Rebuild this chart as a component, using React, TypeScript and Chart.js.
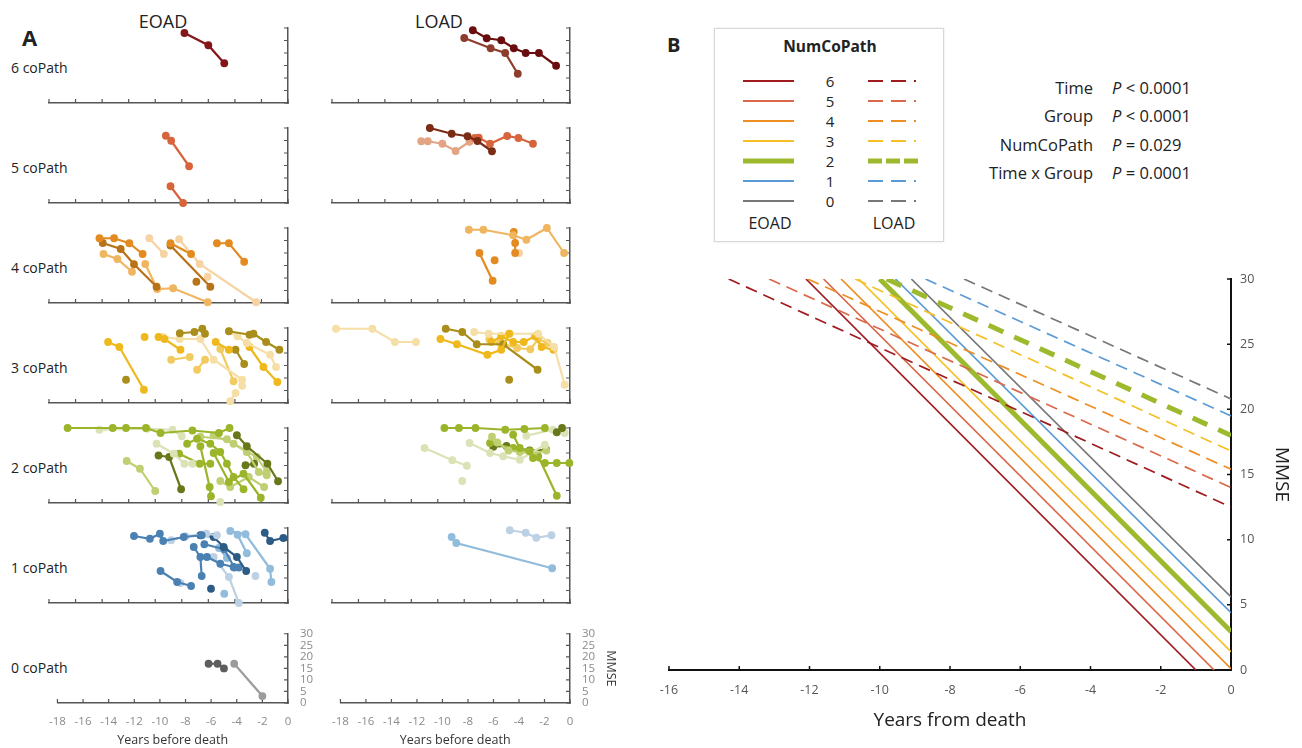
import React, { useEffect, useRef } from 'react';
import { Chart, registerables } from 'chart.js';

Chart.register(...registerables);
Chart.defaults.font.family = "'Open Sans', 'Noto Sans', sans-serif";

type Pt = [number, number];

// ---------------- Panel A: individual trajectories [years before death, MMSE] ----------------
// shade index per trajectory: 0 base, 1 dark, 2 light, 3 pale
const eoad6: Pt[][] = [
  [[-7.8, 28], [-6.0, 23.1], [-4.8, 15.9]],
];
const eoad6Shade = [0];
const load6: Pt[][] = [
  [[-7.35, 29.1], [-6.3, 25.9], [-5.2, 25.1], [-4.25, 21.9], [-3.35, 20], [-2.35, 20], [-1.05, 14.9]],
  [[-8.0, 26], [-6.0, 21.9], [-4.9, 20], [-3.95, 11.7]],
];
const load6Shade = [1, 2];

const eoad5: Pt[][] = [
  [[-9.2, 26.9], [-8.8, 24.9], [-7.45, 14.7]],
  [[-8.85, 6.7], [-7.9, 0]],
];
const eoad5Shade = [0, 0];
const load5: Pt[][] = [
  [[-10.6, 30], [-8.95, 27.7], [-7.75, 26.7], [-7.0, 24.8], [-5.9, 20.7]],
  [[-7.2, 26], [-6.9, 26.1], [-6.05, 23.7], [-4.75, 26.8], [-3.9, 26], [-2.8, 23.7]],
  [[-11.25, 24.7], [-10.75, 24.7], [-9.65, 23.7], [-8.65, 20.8], [-7.6, 24.5]],
];
const load5Shade = [1, 0, 2];

const eoad4: Pt[][] = [
  [[-14.2, 25.9], [-13.1, 25.9], [-11.95, 23.9], [-10.95, 19.6]],
  [[-13.95, 24], [-12.6, 21.6], [-11.6, 15.5], [-9.9, 6.5]],
  [[-13.9, 19.6], [-12.85, 17.6], [-11.75, 12.5]],
  [[-10.75, 15.6], [-9.85, 5.6], [-8.65, 5.9], [-6.05, 0.3]],
  [[-10.45, 25.9], [-9.35, 19.6]],
  [[-8.85, 23.9], [-7.3, 19.6]],
  [[-8.85, 23], [-5.85, 6.5]],
  [[-6.9, 8.5]],
  [[-8.2, 25.5], [-6.65, 15.6], [-2.4, 0.3]],
  [[-5.35, 23.9], [-4.45, 23.9], [-3.3, 16.5]],
  [[-6.05, 10.5]],
];
const eoad4Shade = [0, 1, 2, 2, 3, 0, 1, 1, 3, 0, 3];
const load4: Pt[][] = [
  [[-7.65, 29.3], [-6.55, 29.3], [-4.3, 27.1], [-3.3, 25.3], [-1.75, 30], [-0.45, 20]],
  [[-6.85, 20], [-5.85, 8.9]],
  [[-5.7, 17.1]],
  [[-4.25, 28.4], [-4.15, 24], [-4.15, 20]],
  [[-3.85, 20]],
];
const load4Shade = [2, 0, 0, 0, 3];

const eoad3: Pt[][] = [
  [[-13.55, 24.4], [-12.7, 22.4], [-10.85, 5.3]],
  [[-12.2, 9.3]],
  [[-10.8, 26.4]],
  [[-9.75, 26.4], [-9.3, 25.6], [-8.1, 21.3]],
  [[-8.15, 27.9], [-7.05, 28.4], [-6.45, 29.7], [-6.25, 27.7]],
  [[-9.4, 26.4], [-8.15, 25.6], [-6.6, 25.6], [-5.6, 17.3], [-3.45, 9.3]],
  [[-8.8, 17.3], [-7.4, 18.4]],
  [[-6.85, 13.3], [-6.25, 17.3]],
  [[-5.45, 24.4], [-4.45, 21.3]],
  [[-3.95, 21.3], [-3.3, 15.6]],
  [[-4.45, 28.7], [-2.9, 27.3], [-2.6, 27.7], [-1.65, 24.4], [-0.65, 21.3]],
  [[-4.45, 28.7], [-3.8, 26.7], [-3.1, 24], [-1.35, 19.3], [-0.9, 14.4]],
  [[-2.9, 22.4], [-1.85, 14.4], [-0.8, 8.4]],
  [[-4.35, 0.7], [-3.95, 4]],
  [[-3.45, 6.9]],
  [[-5.1, 21.6], [-4.1, 8.7]],
];
const eoad3Shade = [0, 1, 0, 0, 1, 3, 2, 2, 0, 1, 1, 3, 0, 3, 3, 2];
const load3: Pt[][] = [
  [[-17.7, 29.7], [-14.95, 29.7], [-13.25, 24.4], [-11.65, 24.4]],
  [[-9.8, 25.6], [-8.55, 23.5], [-6.25, 19.3], [-5.2, 21.3], [-4.6, 27.7]],
  [[-9.4, 29.7], [-8.15, 28.4], [-7.05, 23.5], [-5.05, 23.5], [-2.45, 13.3]],
  [[-7.25, 28.4], [-6.15, 27.7], [-4.55, 27.7], [-2.4, 27.7], [-1.2, 22.4], [-0.4, 7.3]],
  [[-5.95, 24.4], [-5.2, 26.7], [-4.3, 24.4], [-3.5, 24.4], [-2.65, 26.7], [-2.15, 22.4], [-1.25, 21.3]],
  [[-6.1, 25.5], [-5.3, 24], [-4.0, 22], [-3.0, 21.5], [-2.4, 25.5], [-1.7, 24]],
  [[-4.6, 9.3]],
];
const load3Shade = [3, 0, 1, 3, 0, 2, 1];

const eoad2: Pt[][] = [
  [[-16.6, 30], [-13.2, 30], [-12.2, 30], [-10.7, 30], [-9.6, 28], [-7.2, 29], [-5.2, 28], [-4.4, 30]],
  [[-14.2, 29.3], [-10.6, 29.7], [-8.7, 29.3], [-8.0, 26.7]],
  [[-9.9, 23.7], [-8.6, 19.7], [-7.8, 15.7], [-7.2, 15.7]],
  [[-9.75, 19], [-8.95, 18.4], [-8.05, 5.5]],
  [[-8.2, 19.7], [-6.65, 15.7], [-5.85, 15.7]],
  [[-12.15, 16.8], [-11.15, 13.7], [-10.0, 4.8]],
  [[-7.6, 23.7], [-6.85, 25.7], [-5.85, 23.7], [-5.1, 20.4], [-4.6, 15.7], [-4.1, 10.4], [-3.35, 5.5]],
  [[-6.6, 22.7], [-5.9, 6.4], [-5.8, 2.7]],
  [[-3.85, 27.1], [-3.1, 22.7], [-1.55, 15.7], [-0.75, 8.7]],
  [[-6.6, 26.5], [-4.6, 25.5], [-3.1, 20.4], [-2.2, 12.4], [-1.6, 11.1]],
  [[-5.6, 20], [-4.45, 8.4], [-3.35, 11.7], [-2.05, 2.1]],
  [[-3.2, 15.1], [-2.55, 15.7]],
  [[-5.1, 0.4]],
  [[-5.1, 8.8], [-4.35, 6.4], [-2.95, 10.4], [-1.8, 6.4]],
  [[-5.6, 27.1], [-4.1, 23.7], [-2.35, 18.4], [-1.6, 12.4]],
];
const eoad2Shade = [0, 3, 3, 1, 0, 2, 0, 0, 1, 2, 0, 1, 3, 2, 2];
const load2: Pt[][] = [
  [[-9.5, 30], [-8.4, 30], [-7.15, 30], [-4.9, 29.3], [-3.45, 29.6], [-1.9, 30]],
  [[-11.0, 22], [-8.9, 17.1], [-7.8, 14.9]],
  [[-8.15, 8.8]],
  [[-1.0, 28.3], [-0.6, 30]],
  [[-4.3, 27.3], [-3.8, 22], [-3.05, 20.7], [-2.8, 18], [-1.9, 16], [-1.0, 16], [-0.05, 16]],
  [[-7.6, 24], [-6.05, 20], [-5.05, 18.7], [-3.8, 17.3], [-1.9, 23.3]],
  [[-5.9, 26.5], [-5.5, 24.2], [-4.65, 21], [-3.8, 20.4], [-2.8, 19.7], [-1.8, 21]],
  [[-6.05, 24], [-4.3, 22], [-2.4, 18.7], [-1.0, 2.9]],
  [[-5.8, 22.5], [-4.8, 22.8], [-3.05, 21], [-1.8, 21.3]],
  [[-3.3, 26.9], [-1.3, 29.3], [-0.4, 28]],
];
const load2Shade = [0, 3, 3, 1, 0, 3, 2, 0, 1, 3];

const eoad1: Pt[][] = [
  [[-11.6, 26.8], [-10.4, 25.7], [-9.65, 27.7], [-9.4, 24.8], [-7.85, 26.4], [-6.5, 27.1]],
  [[-8.8, 25.1], [-7.7, 26.7], [-6.15, 27.7], [-5.35, 27.1]],
  [[-9.6, 12.8], [-8.35, 8.4], [-7.3, 6.8]],
  [[-8.1, 8]],
  [[-6.6, 27.1], [-5.6, 26.4], [-4.85, 22.4], [-3.85, 18.4], [-3.15, 12.8]],
  [[-7.1, 22.4], [-6.6, 18.4], [-6.5, 10.8]],
  [[-4.35, 28.8], [-3.2, 27.5], [-1.35, 13.7], [-1.25, 8.4]],
  [[-3.8, 27.3], [-3.1, 19.9]],
  [[-1.75, 28.1], [-1.35, 24.8], [-0.35, 26]],
  [[-6.1, 18.4], [-5.1, 15.7], [-4.1, 14.4]],
  [[-5.6, 18.4], [-4.45, 10.4], [-3.7, 0]],
  [[-5.8, 5.7]],
  [[-4.8, 3.7]],
  [[-2.45, 10.8]],
  [[-6.3, 23.5], [-4.8, 21.5], [-4.05, 14.2], [-3.7, 14.2]],
  [[-5.2, 22], [-4.6, 18]],
];
const eoad1Shade = [0, 3, 0, 3, 1, 0, 2, 2, 1, 0, 3, 1, 2, 3, 0, 2];
const load1: Pt[][] = [
  [[-8.95, 26.4], [-8.6, 24], [-1.35, 13.9]],
  [[-4.55, 29.1], [-3.35, 28.1], [-2.55, 26.1], [-1.4, 27.1]],
];
const load1Shade = [2, 3];

const eoad0: Pt[][] = [
  [[-6.2, 17], [-5.5, 17], [-5.0, 15]],
  [[-4.2, 17], [-2.0, 3]],
];
const eoad0Shade = [1, 2];
const load0: Pt[][] = [];
const load0Shade: number[] = [];

const rowLabels = ['6 coPath', '5 coPath', '4 coPath', '3 coPath', '2 coPath', '1 coPath', '0 coPath'];
const panelAXTicks = { min: -18, max: 0, step: 2 };
const panelAYTicks = { min: 0, max: 30, step: 5 };

// ---------------- Panel B: model-fitted MMSE lines ----------------
const numCoPath = ['6', '5', '4', '3', '2', '1', '0'];
const eoadStartYear = [-12.1, -11.6, -11.1, -10.6, -10.0, -9.55, -9.1];
const eoadStartMMSE = [30, 30, 30, 30, 30, 30, 30];
const eoadEndYear = [-1.0, -0.48, 0, 0, 0, 0, 0];
const eoadEndMMSE = [0, 0, 0.1, 1.4, 2.95, 4.4, 5.6];
const loadStartYear = [-14.3, -13.15, -12.05, -10.7, -9.8, -8.7, -7.6];
const loadStartMMSE = [30, 30, 30, 30, 30, 30, 30];
const loadEndYear = [0, 0, 0, 0, 0, 0, 0];
const loadEndMMSE = [12.5, 14.0, 15.4, 16.8, 18.0, 19.5, 20.8];
const statLabels = ['Time', 'Group', 'NumCoPath', 'Time x Group'];
const statOps = ['<', '<', '=', '='];
const statValues = ['0.0001', '0.0001', '0.029', '0.0001'];

// ---------------- styles ----------------
const pal6 = ['#84171A', '#690D0E', '#8E3C2C', '#B86A5A'];
const pal5 = ['#D8643C', '#7A2C14', '#E3A385', '#F0C4AC'];
const pal4 = ['#E38A20', '#B87218', '#F0B560', '#F6D3A2'];
const pal3 = ['#EFB81C', '#A98E1C', '#F2CB60', '#F6DFA6'];
const pal2 = ['#9BB52A', '#66781A', '#BFCF72', '#DBE3B6'];
const pal1 = ['#4B80B3', '#2C5C86', '#92BCDC', '#BCD1E4'];
const pal0 = ['#6B6B6B', '#5E5E5E', '#9B9B9B', '#BDBDBD'];
const bColors = ['#A01B1F', '#D9694A', '#EE8E22', '#F4C025', '#9DB92E', '#5B9BD5', '#777777'];

const rows = [
  { e: eoad6, es: eoad6Shade, l: load6, ls: load6Shade, pal: pal6 },
  { e: eoad5, es: eoad5Shade, l: load5, ls: load5Shade, pal: pal5 },
  { e: eoad4, es: eoad4Shade, l: load4, ls: load4Shade, pal: pal4 },
  { e: eoad3, es: eoad3Shade, l: load3, ls: load3Shade, pal: pal3 },
  { e: eoad2, es: eoad2Shade, l: load2, ls: load2Shade, pal: pal2 },
  { e: eoad1, es: eoad1Shade, l: load1, ls: load1Shade, pal: pal1 },
  { e: eoad0, es: eoad0Shade, l: load0, ls: load0Shade, pal: pal0 },
];

const inwardTicks = {
  id: 'inwardTicks',
  beforeDatasetsDraw(chart: any, _args: any, opts: any) {
    const { ctx, chartArea: a, scales } = chart;
    const len = opts.len ?? 4;
    ctx.save();
    ctx.strokeStyle = opts.color || '#555';
    ctx.lineWidth = opts.width || 1;
    ctx.beginPath();
    for (const t of scales.x.ticks) {
      const px = scales.x.getPixelForValue(t.value);
      ctx.moveTo(px, a.bottom);
      ctx.lineTo(px, a.bottom - len);
    }
    for (const t of scales.y.ticks) {
      const py = scales.y.getPixelForValue(t.value);
      ctx.moveTo(a.right, py);
      ctx.lineTo(a.right - len, py);
    }
    ctx.stroke();
    ctx.restore();
  },
};

const PAD = 12;
const CW_L = 239;
const CW_R = 238;
const CH = 75;
const colLeft = [49, 332];
const rowTop = (r: number) => 28 + 100 * r;

function cellDims(r: number, c: number) {
  const bottom = r === 6;
  const wy = bottom ? (c === 1 ? 48 : 40) : 8;
  const hx = bottom ? 45 : 8;
  const cw = c === 0 ? CW_L : CW_R;
  return { left: colLeft[c] - PAD, top: rowTop(r) - PAD, width: PAD + cw + wy, height: PAD + CH + hx, wy, hx, bottom };
}

function smallConfig(traj: Pt[][], shade: number[], pal: string[], r: number, c: number): any {
  const d = cellDims(r, c);
  return {
    type: 'scatter',
    data: {
      datasets: traj.map((t, i) => ({
        data: t.map(([x, y]) => ({ x, y })),
        showLine: true,
        borderColor: pal[shade[i]],
        backgroundColor: pal[shade[i]],
        pointBackgroundColor: pal[shade[i]],
        pointBorderWidth: 0,
        pointRadius: 3.9,
        borderWidth: 2.2,
        clip: false,
      })),
    },
    options: {
      animation: false,
      responsive: false,
      events: [],
      layout: { padding: { left: PAD, top: PAD, right: 0, bottom: 0 } },
      plugins: {
        legend: { display: false },
        tooltip: { enabled: false },
        inwardTicks: { len: 4, color: '#555', width: 1.2 },
      },
      scales: {
        x: {
          type: 'linear', position: 'bottom',
          min: panelAXTicks.min, max: panelAXTicks.max,
          ticks: { display: d.bottom, stepSize: panelAXTicks.step, color: '#8a8a8a', font: { size: 11.5 }, padding: 12, maxRotation: 0, autoSkip: false },
          grid: { display: true, drawOnChartArea: false, drawTicks: false },
          border: { display: true, color: '#555', width: 1.5 },
          title: { display: d.bottom, text: 'Years before death', color: '#333', font: { size: 12.5 }, padding: 0 },
          afterFit: (s: any) => { s.height = d.hx; },
        },
        y: {
          type: 'linear', position: 'right',
          min: panelAYTicks.min, max: panelAYTicks.max,
          ticks: { display: d.bottom, stepSize: panelAYTicks.step, color: '#8a8a8a', font: { size: 11.5, lineHeight: 1 }, padding: 12, autoSkip: false },
          grid: { display: true, drawOnChartArea: false, drawTicks: false },
          border: { display: true, color: '#555', width: 1.5 },
          title: { display: d.bottom && c === 1, text: 'MMSE', color: '#333', font: { size: 12.5 }, padding: 0 },
          afterFit: (s: any) => { s.width = d.wy; },
        },
      },
    },
    plugins: [inwardTicks],
  };
}

const B = { left: 640, top: 250, pl: 29, pt: 29, cw: 562, ch: 391, wy: 70, hx: 62 };

function bigConfig(): any {
  const datasets: any[] = [];
  numCoPath.forEach((n, i) => {
    const green = n === '2';
    datasets.push({
      label: 'LOAD ' + n,
      data: [{ x: loadStartYear[i], y: loadStartMMSE[i] }, { x: loadEndYear[i], y: loadEndMMSE[i] }],
      showLine: true,
      borderColor: bColors[i],
      borderWidth: green ? 5 : 1.7,
      borderDash: green ? [16, 12] : [12, 7],
      pointRadius: 0,
    });
  });
  numCoPath.forEach((n, i) => {
    const green = n === '2';
    datasets.push({
      label: 'EOAD ' + n,
      data: [{ x: eoadStartYear[i], y: eoadStartMMSE[i] }, { x: eoadEndYear[i], y: eoadEndMMSE[i] }],
      showLine: true,
      borderColor: bColors[i],
      borderWidth: green ? 5 : 1.7,
      pointRadius: 0,
    });
  });
  return {
    type: 'scatter',
    data: { datasets },
    options: {
      animation: false,
      responsive: false,
      events: [],
      layout: { padding: { left: B.pl, top: B.pt, right: 0, bottom: 0 } },
      plugins: {
        legend: { display: false },
        tooltip: { enabled: false },
        inwardTicks: { len: 4, color: '#111', width: 1.5 },
      },
      scales: {
        x: {
          type: 'linear', position: 'bottom', min: -16, max: 0,
          ticks: { stepSize: 2, color: '#555', font: { size: 12.5 }, padding: 13, maxRotation: 0, autoSkip: false },
          grid: { display: true, drawOnChartArea: false, drawTicks: false },
          border: { display: true, color: '#111', width: 2 },
          title: { display: true, text: 'Years from death', color: '#222', font: { size: 19 }, padding: 0 },
          afterFit: (s: any) => { s.height = B.hx; },
        },
        y: {
          type: 'linear', position: 'right', min: 0, max: 30,
          ticks: { stepSize: 5, color: '#555', font: { size: 12.5 }, padding: 9, autoSkip: false },
          grid: { display: true, drawOnChartArea: false, drawTicks: false },
          border: { display: true, color: '#111', width: 2 },
          title: { display: true, text: 'MMSE', color: '#222', font: { size: 19 }, padding: { top: 8, bottom: 0 } },
          afterFit: (s: any) => { s.width = B.wy; },
        },
      },
    },
    plugins: [inwardTicks],
  };
}

const abs = (left: number, top: number, extra: React.CSSProperties = {}): React.CSSProperties => ({
  position: 'absolute', left, top, ...extra,
});

export default function App() {
  const smallRefs = useRef<(HTMLCanvasElement | null)[]>([]);
  const bigRef = useRef<HTMLCanvasElement | null>(null);

  useEffect(() => {
    const charts: Chart[] = [];
    rows.forEach((row, r) => {
      [0, 1].forEach((c) => {
        const cv = smallRefs.current[r * 2 + c];
        if (!cv) return;
        const cfg = c === 0 ? smallConfig(row.e, row.es, row.pal, r, c) : smallConfig(row.l, row.ls, row.pal, r, c);
        charts.push(new Chart(cv, cfg));
      });
    });
    if (bigRef.current) charts.push(new Chart(bigRef.current, bigConfig()));
    return () => charts.forEach((ch) => ch.destroy());
  }, []);

  const font = "'Open Sans', 'Noto Sans', sans-serif";
  const legendRowY = (i: number) => 81 + 20 * i;

  return (
    <div style={{ position: 'absolute', left: 0, top: 0, width: 1302, height: 748, overflow: 'hidden', background: '#fff', fontFamily: font, color: '#222' }}>
      {/* Panel A */}
      <div style={abs(22, 24, { fontSize: 22, fontWeight: 700, lineHeight: '26px' })}>A</div>
      <div style={abs(113, 9, { width: 100, textAlign: 'center', fontSize: 18, lineHeight: '24px' })}>EOAD</div>
      <div style={abs(389, 9, { width: 100, textAlign: 'center', fontSize: 18, lineHeight: '24px' })}>LOAD</div>
      {rowLabels.map((t, r) => (
        <div key={t} style={abs(11, rowTop(r) + 40 - 10, { fontSize: 14, lineHeight: '20px', whiteSpace: 'nowrap' })}>{t}</div>
      ))}
      {rows.map((_, r) =>
        [0, 1].map((c) => {
          const d = cellDims(r, c);
          return (
            <canvas
              key={r + '-' + c}
              ref={(el) => { smallRefs.current[r * 2 + c] = el; }}
              width={d.width}
              height={d.height}
              style={abs(d.left, d.top, { width: d.width, height: d.height })}
            />
          );
        })
      )}

      {/* Panel B */}
      <div style={abs(667, 32, { fontSize: 20, fontWeight: 700, lineHeight: '26px' })}>B</div>
      <div style={abs(714, 28, { width: 230, height: 214, border: '1px solid #d8d8d8', boxShadow: '0 0 2px rgba(0,0,0,0.12)', boxSizing: 'border-box' })} />
      <div style={abs(714, 35, { width: 232, textAlign: 'center', fontSize: 15.5, fontWeight: 700, lineHeight: '22px' })}>NumCoPath</div>
      {numCoPath.map((n, i) => {
        const y = legendRowY(i);
        const green = n === '2';
        return (
          <React.Fragment key={'lg' + n}>
            <svg style={abs(742, y - 5)} width={54} height={10}>
              <line x1={1} y1={5} x2={52} y2={5} stroke={bColors[i]} strokeWidth={green ? 5 : 2} />
            </svg>
            <div style={abs(820, y - 11, { width: 20, textAlign: 'center', fontSize: 15, lineHeight: '22px' })}>{n}</div>
            <svg style={abs(867, y - 5)} width={54} height={10}>
              <line x1={1} y1={5} x2={green ? 51 : 49} y2={5} stroke={bColors[i]} strokeWidth={green ? 5 : 2} strokeDasharray={green ? '14 4' : '15 8'} />
            </svg>
          </React.Fragment>
        );
      })}
      <div style={abs(730, 211, { width: 80, textAlign: 'center', fontSize: 16, lineHeight: '24px' })}>EOAD</div>
      <div style={abs(854, 211, { width: 80, textAlign: 'center', fontSize: 16, lineHeight: '24px' })}>LOAD</div>

      {statLabels.map((s, i) => {
        const cy = 88 + 28.4 * i;
        return (
          <React.Fragment key={'st' + s}>
            <div style={abs(893, cy - 12, { width: 200, textAlign: 'right', fontSize: 16.5, lineHeight: '24px', whiteSpace: 'nowrap' })}>{s}</div>
            <div style={abs(1112, cy - 12, { fontSize: 16.5, lineHeight: '24px', whiteSpace: 'nowrap' })}>
              <i>P</i> {statOps[i]} {statValues[i]}
            </div>
          </React.Fragment>
        );
      })}

      <canvas
        ref={bigRef}
        width={B.pl + B.cw + B.wy}
        height={B.pt + B.ch + B.hx}
        style={abs(B.left, B.top, { width: B.pl + B.cw + B.wy, height: B.pt + B.ch + B.hx })}
      />
    </div>
  );
}
